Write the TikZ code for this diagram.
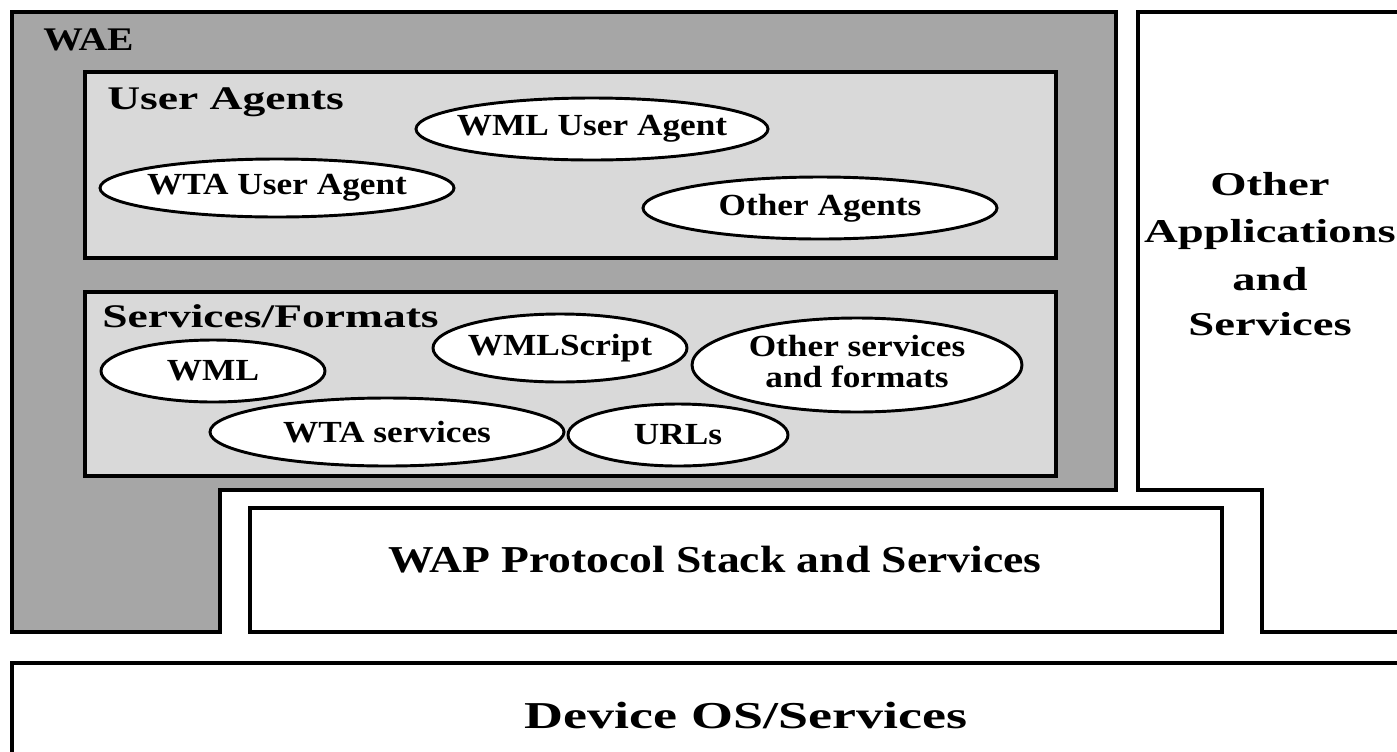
\documentclass[tikz,border=0pt]{standalone}
\usepackage{fontspec}
\setmainfont{Liberation Serif}
\usetikzlibrary{shapes.geometric}
\definecolor{waegray}{RGB}{166,166,166}
\definecolor{boxgray}{RGB}{217,217,217}
\newcommand{\stx}[2]{\scalebox{#1}[1]{#2}}
\tikzset{
  framebox/.style={draw=black, line width=3pt},
  ell/.style={ellipse, draw=black, line width=2.2pt, fill=white, inner sep=0pt},
  elltext/.style={font=\bfseries\fontsize{23}{25}\selectfont, inner sep=0pt},
  head/.style={font=\bfseries\fontsize{24.75}{28}\selectfont, inner sep=0pt, anchor=base west},
  big/.style={font=\bfseries\fontsize{25}{28}\selectfont, inner sep=0pt, anchor=base},
}
\begin{document}
\begin{tikzpicture}[x=0.75pt, y=-0.75pt]
\useasboundingbox (0,0) rectangle (1397,751);
\clip (0,0) rectangle (1397,751);
\fill[white] (0,0) rectangle (1397,751);
% WAE L-shape
\draw[framebox, fill=waegray] (12,12) -- (1116,12) -- (1116,490) -- (220,490) -- (220,632) -- (12,632) -- cycle;
% Other applications L-shape (open to the right)
\draw[framebox, fill=white] (1410,12) -- (1138,12) -- (1138,490) -- (1262,490) -- (1262,632) -- (1410,632);
% WAP box
\draw[framebox, fill=white] (250,508) rectangle (1222,632);
% Device box
\draw[framebox] (1410,663) -- (12,663) -- (12,760);
% User agents and services boxes
\draw[framebox, fill=boxgray] (85,72) rectangle (1056,258);
\draw[framebox, fill=boxgray] (85,292) rectangle (1056,476);

\node[head] (wae) at (43,50) {\stx{1.2}{WAE}};
\node[head] (ua) at (107,109) {\stx{1.38}{User Agents}};
\node[head] (sf) at (102,327) {\stx{1.38}{Services/Formats}};

% ellipses in User Agents
\node[ell, minimum width=352*0.75pt, minimum height=62*0.75pt] (wmlua) at (592,129) {};
\node[elltext] at (wmlua) {\stx{1.15}{WML User Agent}};
\node[ell, minimum width=354*0.75pt, minimum height=58*0.75pt] (wtaua) at (277,188) {};
\node[elltext] at (wtaua) {\stx{1.15}{WTA User Agent}};
\node[ell, minimum width=354*0.75pt, minimum height=62*0.75pt] (oa) at (820,208) {};
\node[elltext] at (oa) {\stx{1.15}{Other Agents}};

% ellipses in Services/Formats
\node[ell, minimum width=224*0.75pt, minimum height=62*0.75pt] (wml) at (213,371) {};
\node[elltext] at (wml) {\stx{1.15}{WML}};
\node[ell, minimum width=354*0.75pt, minimum height=68*0.75pt] (wtas) at (387,432) {};
\node[elltext] at (wtas) {\stx{1.15}{WTA services}};
\node[ell, minimum width=220*0.75pt, minimum height=62*0.75pt] (urls) at (678,435) {};
\node[elltext] at (urls) {\stx{1.15}{URLs}};
\node[ell, minimum width=254*0.75pt, minimum height=68*0.75pt] (wmls) at (560,348) {};
\node[elltext] at (wmls) {\stx{1.15}{WMLScript}};
\node[ell, minimum width=330*0.75pt, minimum height=94*0.75pt] (oth) at (857,365) {};
\node[elltext] at (oth) {\stx{1.15}{\begin{tabular}{@{}c@{}}Other services\\[-2pt]and formats\end{tabular}}};

% Other applications text
\node[big] (oa1) at (1270,195) {\stx{1.4}{Other}};
\node[big] (oa2) at (1270,242) {\stx{1.4}{Applications}};
\node[big] (oa3) at (1270,290) {\stx{1.4}{and}};
\node[big] (oa4) at (1270,335) {\stx{1.4}{Services}};

% WAP and Device text
\node[big, font=\bfseries\fontsize{28.5}{30}\selectfont] (wap) at (715,572) {\stx{1.2}{WAP Protocol Stack and Services}};
\node[big, font=\bfseries\fontsize{28.5}{30}\selectfont] (dev) at (746,728) {\stx{1.42}{Device OS/Services}};
\end{tikzpicture}
\end{document}
